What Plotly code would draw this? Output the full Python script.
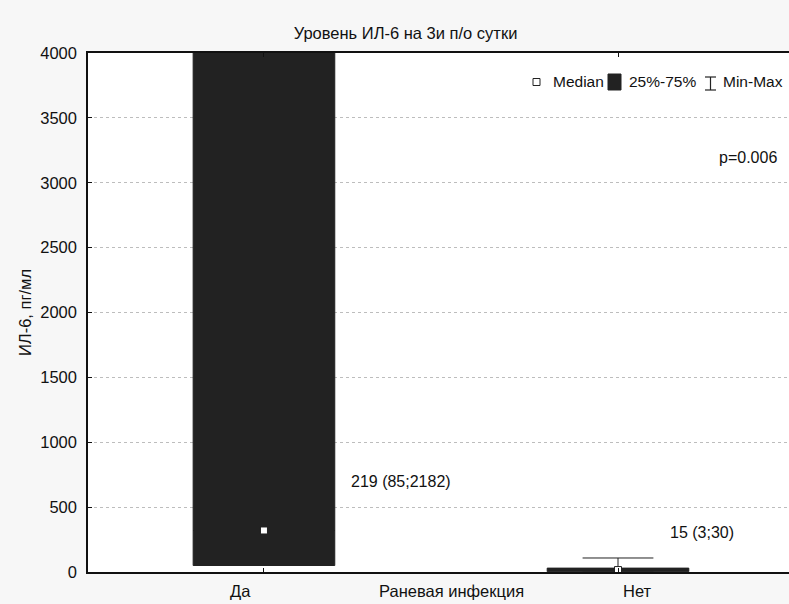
import plotly.graph_objects as go

# Group summaries (IL-6, pg/ml) by wound infection status
groups = ["Да", "Нет"]
q1 = [50, 3]
median = [320, 15]
q3 = [4300, 30]
minimum = [50, 0]
maximum = [4600, 108]
summary_labels = ["219 (85;2182)", "15 (3;30)"]
label_values_y = [694, 308]

y_ticks = [0, 500, 1000, 1500, 2000, 2500, 3000, 3500, 4000]

title_text = "Уровень ИЛ-6 на 3и п/о сутки"
x_title = "Раневая инфекция"
y_title = "ИЛ-6, пг/мл"
p_text = "p=0.006"
legend_items = ["Median", "25%-75%", "Min-Max"]

FONT = "Liberation Sans, Arial, sans-serif"
DARK = "#222222"
TEXT = "#111111"

W, H = 789, 604
ML, MR, MT, MB = 88, 0, 53, 32
PW, PH = W - ML - MR, H - MT - MB


def px(x):
    """Pixel column -> paper x."""
    return (x - ML) / PW


def py(y):
    """Pixel row -> paper y."""
    return (H - MB - y) / PH


xpos = list(range(len(groups)))

fig = go.Figure()

# Box: 25%-75% with min-max whiskers
fig.add_trace(go.Box(
    x=xpos,
    q1=q1, median=median, q3=q3,
    lowerfence=minimum, upperfence=maximum,
    width=0.40,
    whiskerwidth=0.5,
    fillcolor=DARK,
    line=dict(color=DARK, width=1),
    boxpoints=False,
    hoverinfo="skip",
    showlegend=False,
))

# Median markers
fig.add_trace(go.Scatter(
    x=xpos, y=median, mode="markers",
    marker=dict(symbol="square", size=7, color="white",
                line=dict(color=DARK, width=1)),
    showlegend=False, hoverinfo="skip",
))

annotations = []

# Category labels under the axis
label_shift = [-23, 19]
for i, g in enumerate(groups):
    annotations.append(dict(
        x=xpos[i], y=0, xref="x", yref="paper", text=g, showarrow=False,
        xanchor="center", yanchor="middle", yshift=-19, xshift=label_shift[i],
        font=dict(family=FONT, size=16.5, color=TEXT),
    ))

# Axis title of the grouping variable
annotations.append(dict(
    x=px(451), y=0, xref="paper", yref="paper", text=x_title, showarrow=False,
    xanchor="center", yanchor="middle", yshift=-19,
    font=dict(family=FONT, size=16.5, color=TEXT),
))

# Y axis title
annotations.append(dict(
    x=px(25), y=py(313), xref="paper", yref="paper", text=y_title,
    showarrow=False, textangle=-90, xanchor="center", yanchor="middle",
    font=dict(family=FONT, size=16.5, color=TEXT),
))

# Group summary texts
label_dx = [85, 50]
for i, s in enumerate(summary_labels):
    annotations.append(dict(
        x=xpos[i], y=label_values_y[i], xref="x", yref="y", text=s,
        showarrow=False, xanchor="left", yanchor="middle", xshift=label_dx[i],
        font=dict(family=FONT, size=16, color=TEXT),
    ))

# p-value
annotations.append(dict(
    x=px(779), y=py(157), xref="paper", yref="paper", text=p_text,
    showarrow=False, xanchor="right", yanchor="middle",
    font=dict(family=FONT, size=16, color=TEXT),
))

# Legend: symbols as shapes, names as text
legend_y = 82
legend_text_x = [551, 627, 721]
for name, lx in zip(legend_items, legend_text_x):
    annotations.append(dict(
        x=px(lx), y=py(legend_y), xref="paper", yref="paper", text=name,
        showarrow=False, xanchor="left", yanchor="middle",
        font=dict(family=FONT, size=15.5, color=TEXT),
    ))

shapes = [
    # Median symbol
    dict(type="rect", xref="paper", yref="paper",
         x0=px(533), x1=px(540), y0=py(85.5), y1=py(78.5),
         fillcolor="white", line=dict(color=DARK, width=1)),
    # 25%-75% symbol
    dict(type="rect", xref="paper", yref="paper",
         x0=px(608), x1=px(621), y0=py(90), y1=py(74),
         fillcolor=DARK, line=dict(color=DARK, width=1)),
    # Min-Max symbol (I-beam)
    dict(type="line", xref="paper", yref="paper",
         x0=px(710.5), x1=px(710.5), y0=py(90), y1=py(77),
         line=dict(color=DARK, width=1.2)),
    dict(type="line", xref="paper", yref="paper",
         x0=px(705), x1=px(716), y0=py(77), y1=py(77),
         line=dict(color=DARK, width=1.2)),
    dict(type="line", xref="paper", yref="paper",
         x0=px(705), x1=px(716), y0=py(90), y1=py(90),
         line=dict(color=DARK, width=1.2)),
]

fig.update_layout(
    width=W, height=H,
    margin=dict(l=ML, r=MR, t=MT, b=MB),
    paper_bgcolor="#f7f7f7",
    plot_bgcolor="white",
    title=dict(text=title_text, x=405.5 / W, xanchor="center",
               y=1 - 33.5 / H, yanchor="middle", yref="container",
               font=dict(family=FONT, size=16.5, color=TEXT)),
    annotations=annotations,
    shapes=shapes,
    showlegend=False,
)

fig.update_xaxes(
    range=[-0.497, 1.483],
    tickvals=xpos, showticklabels=False,
    ticks="inside", ticklen=4, tickcolor=TEXT,
    showline=True, linecolor=TEXT, linewidth=1.5, mirror="ticks",
    showgrid=False, zeroline=False, fixedrange=True,
)

fig.update_yaxes(
    range=[0, 4000],
    tickvals=y_ticks,
    ticks="inside", ticklen=4, tickcolor=TEXT,
    tickfont=dict(family=FONT, size=16.5, color=TEXT),
    ticklabelstandoff=6,
    showline=True, linecolor=TEXT, linewidth=1.5,
    showgrid=True, gridcolor="#bdbdbd", griddash="dot", gridwidth=1,
    zeroline=False, fixedrange=True,
)

fig.write_html("out.html")
